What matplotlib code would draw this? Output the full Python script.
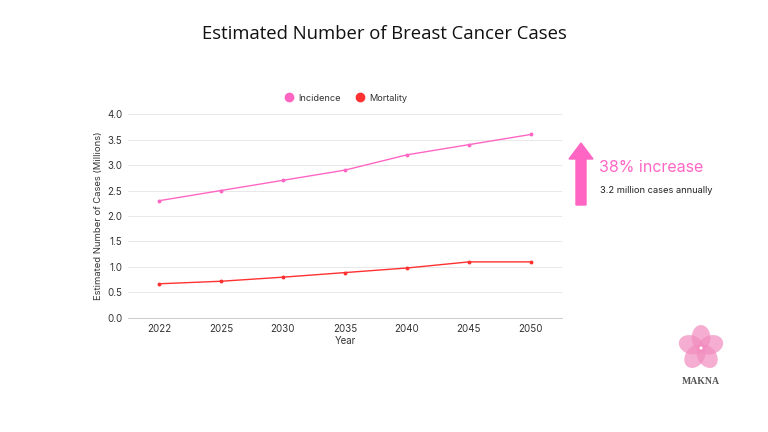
import matplotlib.pyplot as plt
from matplotlib.patches import Ellipse, FancyArrow
import numpy as np

plt.rcParams['font.family'] = ['Inter', 'DejaVu Sans']

years = ['2022', '2025', '2030', '2035', '2040', '2045', '2050']
incidence = [2.3, 2.5, 2.7, 2.9, 3.2, 3.4, 3.6]
mortality = [0.67, 0.72, 0.8, 0.89, 0.98, 1.1, 1.1]
yticks = [0.0, 0.5, 1.0, 1.5, 2.0, 2.5, 3.0, 3.5, 4.0]

PINK = '#ff66c4'
RED = '#ff3131'

fig = plt.figure(figsize=(7.68, 4.32), dpi=100)
ax = fig.add_axes([0.1667, 0.264, 0.565, 0.472])

x = np.arange(len(years))
ax.plot(x, incidence, color=PINK, lw=1.0, marker='o', ms=1.8, label='Incidence')
ax.plot(x, mortality, color=RED, lw=1.0, marker='o', ms=1.8, label='Mortality')

ax.set_xlim(-0.5, len(years) - 0.5)
ax.set_ylim(0, 4.0)
ax.set_xticks(x)
ax.set_xticklabels(years)
ax.set_yticks(yticks)
ax.set_yticklabels([f'{v:.1f}' for v in yticks])
ax.tick_params(length=0, labelsize=7, colors='#333333', pad=4)
ax.grid(axis='y', color='#e8e8e8', lw=0.7)
ax.set_axisbelow(True)
for s in ['top', 'right', 'left']:
    ax.spines[s].set_visible(False)
ax.spines['bottom'].set_color('#cccccc')
ax.spines['bottom'].set_linewidth(0.7)
ax.set_xlabel('Year', fontsize=7, color='#333333', labelpad=2)
ax.set_ylabel('Estimated Number of Cases (Millions)', fontsize=6.8, color='#333333', labelpad=3)

leg = fig.legend(handles=[
    plt.Line2D([], [], ls='', marker='o', ms=6, color=PINK, label='Incidence'),
    plt.Line2D([], [], ls='', marker='o', ms=6, color=RED, label='Mortality')],
    loc='center', bbox_to_anchor=(0.447, 0.773), ncol=2, frameon=False,
    fontsize=6.6, handletextpad=0.0, columnspacing=1.1)
for t in leg.get_texts():
    t.set_color('#333333')

fig.text(0.5, 0.921, 'Estimated Number of Breast Cancer Cases', ha='center', va='center',
         fontsize=13.3, color='#111111', family=['Open Sans', 'DejaVu Sans'])

# arrow + annotation
fig.patches.append(FancyArrow(581 / 768, 1 - 205 / 432, 0, 62 / 432, width=10 / 768,
                              head_width=24 / 768, head_length=16 / 432,
                              length_includes_head=True, color=PINK,
                              transform=fig.transFigure, figure=fig))
fig.text(599 / 768, 1 - 167 / 432, '38% increase', ha='left', va='center',
         fontsize=11.5, color=PINK)
fig.text(600 / 768, 1 - 190 / 432, '3.2 million cases annually', ha='left', va='center',
         fontsize=6.7, color='#222222')

# logo
lax = fig.add_axes([672 / 768, 1 - 372 / 432, 58 / 768, 48 / 432])
lax.set_xlim(-1.2, 1.2)
lax.set_ylim(-1.15, 1.15)
lax.set_aspect('equal')
lax.axis('off')
for k in range(5):
    a = np.deg2rad(90 + 72 * k)
    lax.add_patch(Ellipse((0.5 * np.cos(a), 0.5 * np.sin(a)), 0.9, 1.2,
                          angle=np.rad2deg(a) - 90, color='#f28cbf', alpha=0.7, lw=0))
lax.add_patch(Ellipse((0, 0), 0.15, 0.15, color='white', lw=0))
fig.text(701 / 768, 1 - 381 / 432, 'MAKNA', ha='center', va='center', fontsize=7,
         family=['Liberation Serif', 'DejaVu Serif'], color='#555555', weight='bold')

fig.savefig('out.png', dpi=100, facecolor='white')
